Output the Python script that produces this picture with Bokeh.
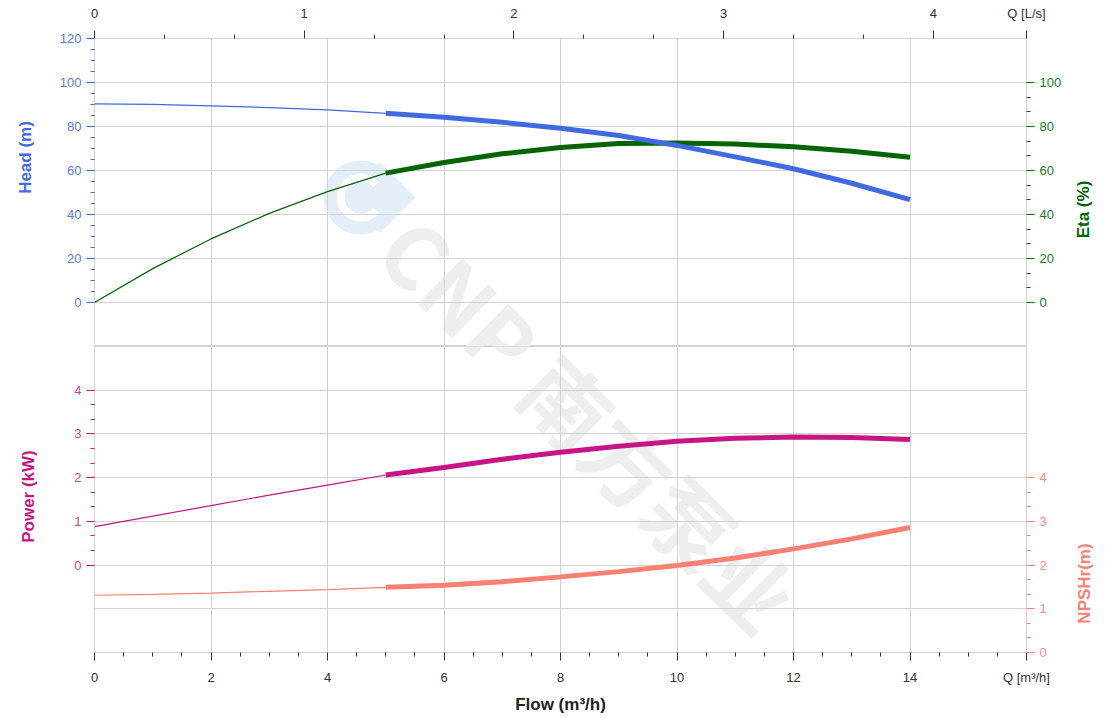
import math
from bokeh.plotting import figure
from bokeh.models import Range1d, LinearAxis, FixedTicker, PrintfTickFormatter
from bokeh.layouts import column, row
from bokeh.embed import file_html
from bokeh.resources import INLINE
from bokeh.core.properties import value

# ---------------- data ----------------
flow = [0, 1, 2, 3, 4, 5, 6, 7, 8, 9, 10, 11, 12, 13, 14]            # m3/h
head = [90.3, 90.1, 89.4, 88.6, 87.6, 86.0, 84.2, 81.9, 79.2, 75.9, 71.4, 66.2, 60.8, 54.2, 46.8]  # m
eta = [0, 15.4, 28.9, 40.5, 50.4, 58.8, 63.6, 67.6, 70.5, 72.3, 72.5, 72.0, 70.8, 68.7, 66.0]     # %
power = [0.88, 1.12, 1.36, 1.60, 1.83, 2.06, 2.23, 2.42, 2.58, 2.72, 2.83, 2.90, 2.93, 2.92, 2.87]  # kW
npsh = [1.31, 1.33, 1.36, 1.40, 1.44, 1.49, 1.54, 1.62, 1.73, 1.85, 1.99, 2.16, 2.37, 2.60, 2.86]  # m
duty_start = 5  # flow where the operating (thick) part of the curves begins

flow_ticks = [0, 2, 4, 6, 8, 10, 12, 14, 16]
ls_ticks = [0, 1, 2, 3, 4]
head_ticks = [0, 20, 40, 60, 80, 100, 120]
eta_ticks = [0, 20, 40, 60, 80, 100]
power_ticks = [0, 1, 2, 3, 4]
npsh_ticks = [0, 1, 2, 3, 4]
watermark = "CNP 南方泵业"

# ---------------- styling ----------------
FONT = "Liberation Sans"
GRID = "#d2d2d2"
TXT = "#333333"
C_HEAD = "#4169E1"
C_ETA = "#006400"
C_POW = "#C71585"
C_NPSH = "#FA8072"
TOTAL_H = 716
LEFT_W = 40      # strip holding the left axis titles
RIGHT_W = 44     # strip holding the right axis titles
MAIN_W = 1026
FLOW_MAX = 16


def minors(major, n):
    out = []
    for a, b in zip(major[:-1], major[1:]):
        for k in range(1, n):
            out.append(a + (b - a) * k / n)
    return out


def split(xs, ys):
    thin = [(x, y) for x, y in zip(xs, ys) if x <= duty_start]
    thick = [(x, y) for x, y in zip(xs, ys) if x >= duty_start]
    return ([p[0] for p in thin], [p[1] for p in thin]), ([p[0] for p in thick], [p[1] for p in thick])


def style_axis(ax, color, label_color, ticks, minor_ticks, standoff=5):
    ax.ticker = FixedTicker(ticks=ticks, minor_ticks=minor_ticks)
    ax.axis_line_color = None
    ax.major_tick_line_color = color
    ax.minor_tick_line_color = color
    ax.major_tick_out = 8
    ax.major_tick_in = 0
    ax.minor_tick_out = 4
    ax.minor_tick_in = 0
    ax.major_label_text_color = label_color
    ax.major_label_text_font = FONT
    ax.major_label_text_font_size = "13px"
    ax.major_label_standoff = standoff


def base_fig(height, y0, y1, top_border, bottom_border):
    p = figure(width=MAIN_W, height=height, x_range=Range1d(0, FLOW_MAX), y_range=Range1d(y0, y1),
               output_backend="svg", toolbar_location=None,
               x_axis_location=None, y_axis_location=None,
               min_border_left=54, min_border_right=40,
               min_border_top=top_border, min_border_bottom=bottom_border)
    p.outline_line_color = GRID
    p.background_fill_color = "white"
    p.border_fill_color = "white"
    p.xgrid.ticker = FixedTicker(ticks=flow_ticks)
    for g in p.xgrid + p.ygrid:
        g.grid_line_color = GRID
        g.grid_line_width = 1
    return p


def add_watermark(p, y_center):
    p.text(x=[8.52], y=[y_center], text=[watermark], angle=-0.78,
           text_align="center", text_baseline="middle",
           text_font=value("Noto Sans CJK SC"), text_font_size="86px",
           text_font_style="bold", text_color="#eeeeee", level="image")


def title_strip(width, titles):
    """Narrow figure (pixel coordinates, y measured up from the bottom) carrying rotated axis titles."""
    p = figure(width=width, height=TOTAL_H, x_range=Range1d(0, width), y_range=Range1d(0, TOTAL_H),
               output_backend="svg", toolbar_location=None,
               x_axis_location=None, y_axis_location=None, min_border=0)
    p.grid.visible = False
    p.outline_line_color = None
    p.background_fill_color = "white"
    p.border_fill_color = "white"
    for text, color, x, y in titles:
        p.text(x=[x], y=[y], text=[text], angle=math.pi / 2,
               text_align="center", text_baseline="middle",
               text_font=value(FONT), text_font_size="17px", text_font_style="bold",
               text_color=color)
    return p


# ================= top figure: head + efficiency =================
top = base_fig(346, -20, 120, 38, 0)
top.ygrid.ticker = FixedTicker(ticks=list(range(-20, 121, 20)))
LS_MAX = FLOW_MAX / 3.6
top.extra_x_ranges = {"ls": Range1d(0, LS_MAX)}

# watermark + logo (drawn beneath the grid)
top.circle(x=[4.57], y=[47.7], radius=37, radius_units="screen",
           fill_color="#e3eef8", line_color=None, level="image")
top.rect(x=[4.9], y=[47.7], width=50, height=50, width_units="screen", height_units="screen",
         angle=math.pi / 4, fill_color="#e3eef8", line_color=None, level="image")
top.arc(x=[4.57], y=[47.7], radius=20, radius_units="screen", start_angle=0.7, end_angle=5.6,
        line_color="white", line_width=8, level="image")
add_watermark(top, -54.5)

ls_axis = LinearAxis(x_range_name="ls")
style_axis(ls_axis, TXT, TXT, ls_ticks + [LS_MAX], minors(ls_ticks, 3), standoff=10)
ls_axis.formatter = PrintfTickFormatter(format="%d")
overrides = {t: str(t) for t in ls_ticks}
overrides[LS_MAX] = "Q [L/s]"
ls_axis.major_label_overrides = overrides
top.add_layout(ls_axis, "above")

head_axis = LinearAxis()
style_axis(head_axis, C_HEAD, "#5a7ae6", head_ticks, minors(head_ticks, 4))
top.add_layout(head_axis, "left")

eta_axis = LinearAxis()
style_axis(eta_axis, C_ETA, "#1f7a1f", eta_ticks, minors(eta_ticks, 3))
top.add_layout(eta_axis, "right")

(hx0, hy0), (hx1, hy1) = split(flow, head)
(ex0, ey0), (ex1, ey1) = split(flow, eta)
top.line(hx0, hy0, line_color=C_HEAD, line_width=1.2)
top.line(ex0, ey0, line_color=C_ETA, line_width=1.2)
top.line(ex1, ey1, line_color=C_ETA, line_width=5)
top.line(hx1, hy1, line_color=C_HEAD, line_width=5)

# ================= bottom figure: power + NPSHr =================
bot = base_fig(370, -2, 5, 0, 62)
bot.ygrid.ticker = FixedTicker(ticks=[-2, -1, 0, 1, 2, 3, 4, 5])
bot.extra_y_ranges = {"npsh": Range1d(0, 7)}

add_watermark(bot, 3.27)

flow_axis = LinearAxis()
style_axis(flow_axis, TXT, TXT, flow_ticks, minors(flow_ticks, 4), standoff=9)
flow_axis.major_label_overrides = {16: "Q [m³/h]"}
flow_axis.axis_label = "Flow (m³/h)"
flow_axis.axis_label_text_font = FONT
flow_axis.axis_label_text_font_size = "17px"
flow_axis.axis_label_text_font_style = "bold"
flow_axis.axis_label_text_color = "#222222"
flow_axis.axis_label_standoff = 7
bot.add_layout(flow_axis, "below")

power_axis = LinearAxis()
style_axis(power_axis, C_POW, "#d2449a", power_ticks, minors(power_ticks, 3))
bot.add_layout(power_axis, "left")

npsh_axis = LinearAxis(y_range_name="npsh")
style_axis(npsh_axis, C_NPSH, "#f98f83", npsh_ticks, minors(npsh_ticks, 3))
bot.add_layout(npsh_axis, "right")

(px0, py0), (px1, py1) = split(flow, power)
(nx0, ny0), (nx1, ny1) = split(flow, npsh)
bot.line(px0, py0, line_color=C_POW, line_width=1.2)
bot.line(px1, py1, line_color=C_POW, line_width=5)
bot.line(nx0, ny0, line_color=C_NPSH, line_width=1.2, y_range_name="npsh")
bot.line(nx1, ny1, line_color=C_NPSH, line_width=5, y_range_name="npsh")

# ================= axis title strips =================
left_strip = title_strip(LEFT_W, [("Head (m)", C_HEAD, 25, TOTAL_H - 157),
                                  ("Power (kW)", C_POW, 28, TOTAL_H - 496)])
right_strip = title_strip(RIGHT_W, [("Eta (%)", C_ETA, 17, TOTAL_H - 209),
                                    ("NPSHr(m)", C_NPSH, 18, TOTAL_H - 583)])

layout = row(left_strip, column(top, bot), right_strip)
open("out.html", "w").write(file_html(layout, INLINE))
